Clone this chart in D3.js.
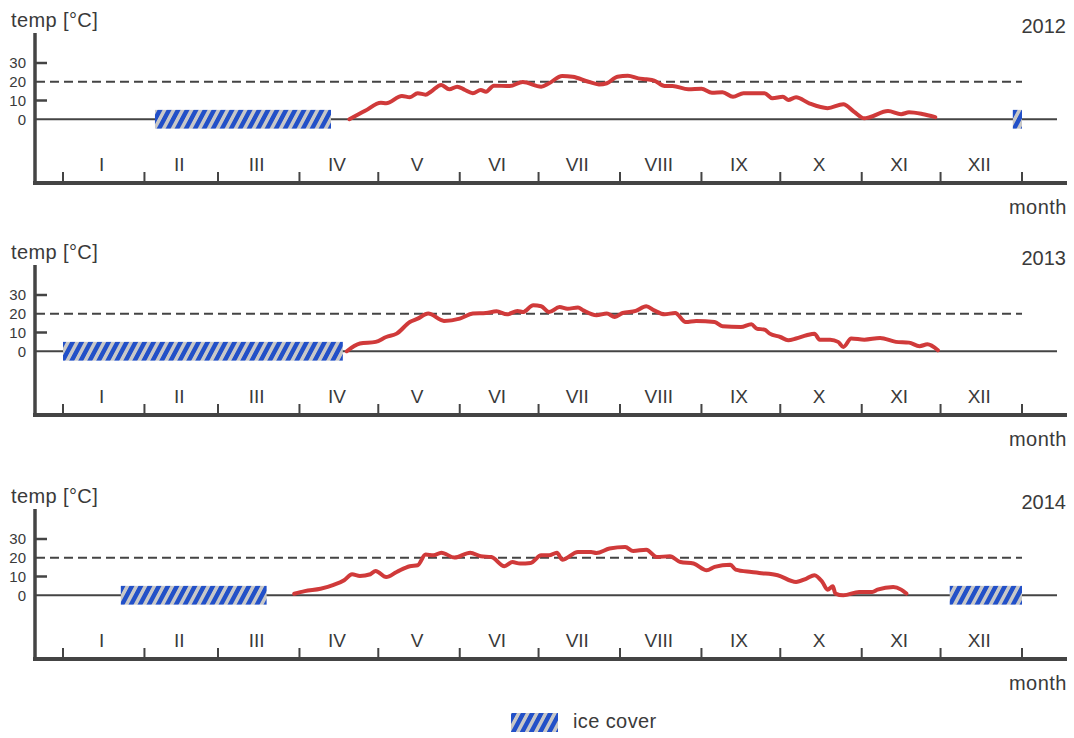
<!DOCTYPE html>
<html>
<head>
<meta charset="utf-8">
<script src="https://cdn.jsdelivr.net/npm/d3@7"></script>
<style>
  body { margin: 0; background: #fff; }
  text { font-family: "Liberation Sans", Arial, sans-serif; fill: #3a3a3a; }
</style>
</head>
<body>
<div id="chart"></div>
<script>
// months (roman labels) and day-of-year where each month starts
var monthLabels = ["I","II","III","IV","V","VI","VII","VIII","IX","X","XI","XII"];
var monthStarts = [0,31,59,90,120,151,181,212,243,273,304,334,365];
var yTicks = [30, 20, 10, 0];
var refTemp = 20;

var years = ["2012", "2013", "2014"];

// daily water temperature (day of year / °C)
var days2012 = [109,115,121,123,129,132,135,138,140,144,147,150,153,156,159,161,164,170,175,182,185,190,194,200,204,207,211,215,219,222,225,229,232,238,243,247,251,255,259,267,270,274,276,279,284,291,297,301,305,307,314,319,322,327,332];
var temp2012 = [0,4.5,8.8,8.5,12.4,11.7,13.9,13.1,14.7,18.3,16,17.4,15.6,13.9,15.6,14.7,17.9,17.7,19.9,17.4,19.2,23.1,22.7,20,18.6,19.2,22.7,23.2,21.8,21.3,20.6,17.7,17.7,16,16.3,14.2,14.4,12,13.9,13.9,11.2,12,10.3,11.7,8.5,5.9,8,4.1,0.5,1.1,4.4,2.7,3.7,2.8,1.1];

var days2013 = [108,113,119,123,127,132,135,139,145,151,156,161,165,169,173,175,179,182,185,189,192,196,198,203,207,210,213,218,222,225,229,233,237,241,248,251,258,262,264,267,269,273,276,279,283,286,288,292,295,297,300,305,311,317,322,326,329,333];
var temp2013 = [0,4.1,5,7.6,9.4,15.6,17.4,20.1,16.2,17.4,20.1,20.4,21.3,19.7,21.5,20.9,24.5,24,20.9,23.6,22.7,23.3,21.8,19.2,20.1,18.3,20.4,21.5,24,21.8,19.7,20.4,15.6,16.2,15.6,13.3,12.9,14.4,12.1,11.5,9.4,7.6,5.9,6.8,8.5,9.4,6.2,6.2,5,2.3,6.8,6.2,7.1,5,4.6,2.7,3.7,0.5];

var days2014 = [88,92,98,103,107,110,113,117,119,123,127,132,135,138,141,144,149,155,159,163,168,171,174,178,182,185,188,190,196,201,203,208,214,217,222,226,231,235,240,245,248,254,256,262,265,272,279,283,286,289,291,293,294,297,303,308,310,316,319,321];
var temp2014 = [0.8,2.2,3.5,5.5,8,11.2,10.3,11.2,13,9.7,12.4,15.5,16,21.7,21.3,22.7,20.1,22.7,20.8,20.4,15.5,17.7,16.9,17.2,21.3,21.3,22.7,19,23.1,23.1,22.5,24.9,25.7,23.6,24.3,20.4,20.8,17.7,16.9,13.3,15.1,16.3,13.7,12.4,11.9,10.7,7.1,8.9,10.7,7.1,3,4.8,0.9,0,1.8,1.8,3,4.4,3,0.9];

// ice cover periods [start day, end day]
var ice2012 = [[35,102],[361.5,365]];
var ice2013 = [[0,106.5]];
var ice2014 = [[22,77.5],[337.5,365]];

var series = [
  { year: years[0], days: days2012, temps: temp2012, ice: ice2012 },
  { year: years[1], days: days2013, temps: temp2013, ice: ice2013 },
  { year: years[2], days: days2014, temps: temp2014, ice: ice2014 }
];

var W = 1074, H = 738;
var axisColor = "#444";
var panelTops = [0, 232, 476];

var svg = d3.select("#chart").append("svg")
  .attr("width", W)
  .attr("height", H);

// hatch pattern for the ice cover
var defs = svg.append("defs");
var pat = defs.append("pattern")
  .attr("id", "ice")
  .attr("patternUnits", "userSpaceOnUse")
  .attr("width", 9)
  .attr("height", 20)
  .attr("patternTransform", "skewX(-28)");
pat.append("rect").attr("width", 9).attr("height", 20).attr("fill", "#c8c8c8");
pat.append("rect").attr("width", 5).attr("height", 20).attr("fill", "#2250c8");

var x = d3.scaleLinear().domain([0, 365]).range([63, 1022]);

var line = d3.line()
  .x(function(d) { return x(d[0]); })
  .y(function(d) { return d.y; })
  .curve(d3.curveMonotoneX);

series.forEach(function(s, i) {
  var top = panelTops[i];
  var y = d3.scaleLinear().domain([-34, 46]).range([183 + top, 33 + top]);
  var g = svg.append("g");

  // 20° reference (dashed) sits under everything else
  g.append("line")
    .attr("x1", 36).attr("x2", 1022)
    .attr("y1", y(refTemp)).attr("y2", y(refTemp))
    .attr("stroke", axisColor).attr("stroke-width", 2)
    .attr("stroke-dasharray", "9,5");

  // zero line
  g.append("line")
    .attr("x1", 36).attr("x2", 1057)
    .attr("y1", y(0)).attr("y2", y(0))
    .attr("stroke", axisColor).attr("stroke-width", 2);

  // ice cover bars
  g.selectAll(".ice")
    .data(s.ice)
    .enter().append("rect")
      .attr("x", function(d) { return x(d[0]); })
      .attr("width", function(d) { return x(d[1]) - x(d[0]); })
      .attr("y", y(5))
      .attr("height", y(-5) - y(5))
      .attr("fill", "url(#ice)");

  // temperature curve
  var pts = s.days.map(function(d, k) { var p = [d, s.temps[k]]; p.y = y(s.temps[k]); return p; });
  g.append("path")
    .datum(pts)
    .attr("d", line)
    .attr("fill", "none")
    .attr("stroke", "#d03a3a")
    .attr("stroke-width", 4)
    .attr("stroke-linejoin", "round")
    .attr("stroke-linecap", "round");

  // y axis
  g.append("line")
    .attr("x1", 35).attr("x2", 35)
    .attr("y1", y(46)).attr("y2", y(-34) + 2)
    .attr("stroke", axisColor).attr("stroke-width", 3.5);
  g.selectAll(".ytick")
    .data([30, 10])
    .enter().append("line")
      .attr("x1", 35).attr("x2", 47)
      .attr("y1", function(d) { return y(d); })
      .attr("y2", function(d) { return y(d); })
      .attr("stroke", axisColor).attr("stroke-width", 2.5);
  g.selectAll(".ylab")
    .data(yTicks)
    .enter().append("text")
      .attr("x", 26)
      .attr("y", function(d) { return y(d); })
      .attr("dy", "0.36em")
      .attr("text-anchor", "end")
      .style("font-size", "15px")
      .text(function(d) { return d; });

  // x axis
  g.append("line")
    .attr("x1", 33).attr("x2", 1067)
    .attr("y1", y(-34)).attr("y2", y(-34))
    .attr("stroke", axisColor).attr("stroke-width", 4);
  g.selectAll(".xtick")
    .data(monthStarts)
    .enter().append("line")
      .attr("x1", function(d) { return x(d); })
      .attr("x2", function(d) { return x(d); })
      .attr("y1", y(-34)).attr("y2", y(-34) - 11)
      .attr("stroke", axisColor).attr("stroke-width", 2);
  g.selectAll(".xlab")
    .data(monthLabels)
    .enter().append("text")
      .attr("x", function(d, k) { return x((monthStarts[k] + monthStarts[k + 1]) / 2) - 2; })
      .attr("y", 171 + top)
      .attr("text-anchor", "middle")
      .style("font-size", "19px")
      .text(function(d) { return d; });

  // titles
  g.append("text")
    .attr("x", 11).attr("y", 27 + top)
    .style("font-size", "20px")
    .style("letter-spacing", "0.4px")
    .text("temp [°C]");
  g.append("text")
    .attr("x", 1066).attr("y", 33 + top)
    .attr("text-anchor", "end")
    .style("font-size", "20px")
    .text(s.year);
  g.append("text")
    .attr("x", 1067).attr("y", 214 + top)
    .attr("text-anchor", "end")
    .style("font-size", "20px")
    .style("letter-spacing", "0.5px")
    .text("month");
});

// legend
svg.append("rect")
  .attr("x", 511).attr("y", 713)
  .attr("width", 47).attr("height", 19)
  .attr("fill", "url(#ice)");
svg.append("text")
  .attr("x", 573).attr("y", 728)
  .style("font-size", "20px")
  .style("letter-spacing", "0.4px")
  .text("ice cover");
</script>
</body>
</html>
